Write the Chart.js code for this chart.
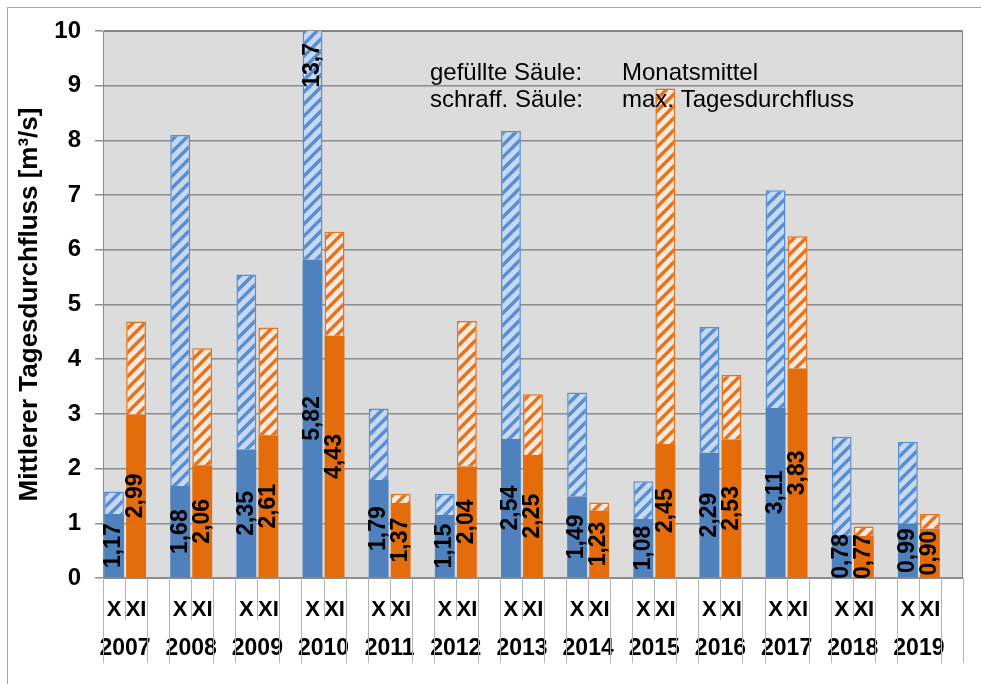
<!DOCTYPE html>
<html>
<head>
<meta charset="utf-8">
<script src="https://cdn.jsdelivr.net/npm/chart.js@4.4.1/dist/chart.umd.min.js"></script>
<style>
  html, body { margin: 0; padding: 0; background: #fff; }
  #wrap { position: relative; width: 981px; height: 684px; overflow: hidden; }
  #frame { position: absolute; left: 7px; top: 7px; width: 1000px; height: 700px;
           border-left: 1px solid #a6a6a6; border-top: 1px solid #a6a6a6; }
  canvas { position: absolute; left: 0; top: 0; }
</style>
</head>
<body>
<div id="wrap"><div id="frame"></div><canvas id="c" width="981" height="684"></canvas></div>
<script>
// Abfluss Oktober (X) und November (XI), 2007–2019
const years = ['2007', '2008', '2009', '2010', '2011', '2012', '2013',
               '2014', '2015', '2016', '2017', '2018', '2019'];
const months = ['X', 'XI'];

// Monatsmittel [m³/s]
const meanOct = [1.17, 1.68, 2.35, 5.82, 1.79, 1.15, 2.54, 1.49, 1.08, 2.29, 3.11, 0.78, 0.99];
const meanNov = [2.99, 2.06, 2.61, 4.43, 1.37, 2.04, 2.25, 1.23, 2.45, 2.53, 3.83, 0.77, 0.90];

// max. Tagesdurchfluss [m³/s]
const maxOct = [1.58, 8.10, 5.55, 13.7, 3.10, 1.54, 8.17, 3.39, 1.77, 4.59, 7.09, 2.58, 2.49];
const maxNov = [4.69, 4.20, 4.58, 6.33, 1.54, 4.70, 3.36, 1.38, 8.95, 3.71, 6.25, 0.94, 1.17];

const yTicks = [0, 1, 2, 3, 4, 5, 6, 7, 8, 9, 10];
const yTitle = 'Mittlerer Tagesdurchfluss [m³/s]';
const notes = [
  ['gefüllte Säule:', 'Monatsmittel'],
  ['schraff. Säule:', 'max. Tagesdurchfluss']
];

const FONT = '"Liberation Sans", Arial, sans-serif';
const BLUE = '#4f81bd', BLUE_LIGHT = '#c6d9f1', BLUE_LINE = '#558ed5';
const ORANGE = '#e46c0a', ORANGE_LIGHT = '#fde9d9', ORANGE_LINE = '#e8721a';

// each year has three slots: X, XI and an empty spacer
const slotsPerYear = months.length + 1;
const slotLabels = years.flatMap(() => [...months, '']);

function inSlot(pos, fn) {
  return years.flatMap((_, i) => {
    const row = new Array(slotsPerYear).fill(null);
    row[pos] = fn(i);
    return row;
  });
}

function hatch(bg, fg) {
  const s = 12;
  const c = document.createElement('canvas');
  c.width = s; c.height = s;
  const g = c.getContext('2d');
  g.fillStyle = bg;
  g.fillRect(0, 0, s, s);
  g.strokeStyle = fg;
  g.lineWidth = 3.4;
  g.beginPath();
  g.moveTo(-2, s + 2); g.lineTo(s + 2, -2);
  g.moveTo(-s / 2 - 2, s / 2 + 2); g.lineTo(s / 2 + 2, -s / 2 - 2);
  g.moveTo(s / 2 - 2, s * 1.5 + 2); g.lineTo(s * 1.5 + 2, s / 2 - 2);
  g.stroke();
  return g.createPattern(c, 'repeat');
}

const fmtMean = v => v.toFixed(2).replace('.', ',');
const fmtMax = v => v.toFixed(1).replace('.', ',');

const barCommon = {
  grouped: false,
  barPercentage: 0.9,
  categoryPercentage: 1.0
};

const datasets = [
  Object.assign({
    label: 'X Monatsmittel', kind: 'mean',
    data: inSlot(0, i => meanOct[i]),
    backgroundColor: BLUE, borderWidth: 0
  }, barCommon),
  Object.assign({
    label: 'X max. Tagesdurchfluss', kind: 'max',
    data: inSlot(0, i => [meanOct[i], maxOct[i]]),
    backgroundColor: hatch(BLUE_LIGHT, BLUE_LINE),
    borderColor: BLUE_LINE, borderWidth: 1.5, borderSkipped: 'start'
  }, barCommon),
  Object.assign({
    label: 'XI Monatsmittel', kind: 'mean',
    data: inSlot(1, i => meanNov[i]),
    backgroundColor: ORANGE, borderWidth: 0
  }, barCommon),
  Object.assign({
    label: 'XI max. Tagesdurchfluss', kind: 'max',
    data: inSlot(1, i => [meanNov[i], maxNov[i]]),
    backgroundColor: hatch(ORANGE_LIGHT, ORANGE_LINE),
    borderColor: ORANGE_LINE, borderWidth: 1.5, borderSkipped: 'start'
  }, barCommon)
];

// grey plot area with a thin frame
const plotArea = {
  id: 'plotArea',
  beforeDraw(chart) {
    const { ctx, chartArea: a } = chart;
    ctx.save();
    ctx.fillStyle = '#dcdcdc';
    ctx.fillRect(a.left, a.top, a.right - a.left, a.bottom - a.top);
    ctx.restore();
  },
  beforeDatasetsDraw(chart) {
    const { ctx, chartArea: a } = chart;
    ctx.save();
    ctx.strokeStyle = '#7f7f7f';
    ctx.lineWidth = 1;
    ctx.beginPath();
    ctx.moveTo(a.left, a.top + 0.5); ctx.lineTo(a.right - 0.5, a.top + 0.5);
    ctx.lineTo(a.right - 0.5, a.bottom);
    ctx.stroke();
    ctx.restore();
  }
};

// separators of the two-level category axis
const axisDividers = {
  id: 'axisDividers',
  afterDraw(chart) {
    const { ctx } = chart;
    const xs = chart.scales.x, x2 = chart.scales.x2;
    const w = xs.getPixelForValue(1) - xs.getPixelForValue(0);
    const left = xs.getPixelForValue(0) - w / 2;
    ctx.save();
    ctx.strokeStyle = '#b4b4b4';
    ctx.lineWidth = 1;
    for (let k = 0; k <= slotLabels.length; k++) {
      const x = Math.round(left + k * w) + 0.5;
      const bottom = (k % slotsPerYear === 1) ? xs.bottom : x2.bottom;
      ctx.beginPath();
      ctx.moveTo(x, xs.top);
      ctx.lineTo(x, bottom);
      ctx.stroke();
    }
    ctx.restore();
  }
};

// rotated value labels and the explanation text
const valueLabels = {
  id: 'valueLabels',
  afterDatasetsDraw(chart) {
    const { ctx, chartArea: a } = chart;
    const ymax = chart.scales.y.max;
    ctx.save();
    ctx.fillStyle = '#000';
    ctx.font = 'bold 23px ' + FONT;
    chart.data.datasets.forEach((ds, di) => {
      const meta = chart.getDatasetMeta(di);
      meta.data.forEach((el, i) => {
        const v = ds.data[i];
        if (v === null || v === undefined) return;
        if (ds.kind === 'mean') {
          const cy = (el.y + el.base) / 2;
          ctx.save();
          ctx.translate(el.x, cy);
          ctx.rotate(-Math.PI / 2);
          ctx.textAlign = 'center';
          ctx.textBaseline = 'middle';
          ctx.fillText(fmtMean(v), 0, 0);
          ctx.restore();
        } else if (v[1] > ymax) {
          ctx.save();
          ctx.translate(el.x, a.top + 12);
          ctx.rotate(-Math.PI / 2);
          ctx.textAlign = 'right';
          ctx.textBaseline = 'middle';
          ctx.fillText(fmtMax(v[1]), 0, 0);
          ctx.restore();
        }
      });
    });
    ctx.font = '24px ' + FONT;
    ctx.textAlign = 'left';
    ctx.textBaseline = 'alphabetic';
    notes.forEach((row, r) => {
      const y = a.top + 49 + r * 27;
      ctx.fillText(row[0], a.left + 327, y);
      ctx.fillText(row[1], a.left + 519, y);
    });
    ctx.restore();
  }
};

new Chart(document.getElementById('c'), {
  type: 'bar',
  data: { labels: slotLabels, datasets },
  plugins: [plotArea, axisDividers, valueLabels],
  options: {
    responsive: false,
    animation: false,
    devicePixelRatio: 1,
    layout: { padding: { left: 8, top: 31, right: 18, bottom: 21 } },
    plugins: { legend: { display: false }, tooltip: { enabled: false } },
    scales: {
      x: {
        type: 'category',
        offset: true,
        grid: { display: false },
        border: { display: true, color: '#8c8c8c', width: 1 },
        ticks: {
          autoSkip: false, maxRotation: 0, minRotation: 0,
          padding: 11, color: '#000',
          font: { family: FONT, size: 22, weight: 'bold' }
        },
        afterFit(s) { s.height = 42; }
      },
      x2: {
        type: 'linear',
        position: 'bottom',
        weight: 1,
        offset: false,
        min: -0.5,
        max: slotLabels.length - 0.5,
        grid: { display: false },
        border: { display: false },
        afterBuildTicks(s) {
          s.ticks = years.map((_, i) => ({ value: i * slotsPerYear + 0.5 }));
        },
        ticks: {
          autoSkip: false, maxRotation: 0, minRotation: 0,
          padding: 7, color: '#000',
          font: { family: FONT, size: 23, weight: 'bold' },
          callback: (v, i) => years[i]
        },
        afterFit(s) { s.height = 43; }
      },
      y: {
        min: yTicks[0],
        max: yTicks[yTicks.length - 1],
        afterBuildTicks(s) { s.ticks = yTicks.map(v => ({ value: v })); },
        grid: { color: '#8c8c8c', lineWidth: 1.5, tickLength: 8, tickColor: '#8c8c8c' },
        border: { display: true, color: '#8c8c8c', width: 1 },
        ticks: {
          padding: 14, color: '#000',
          font: { family: FONT, size: 24, weight: 'bold' }
        },
        title: {
          display: true, text: yTitle, color: '#000',
          font: { family: FONT, size: 26, weight: 'bold' },
          padding: { top: 6, bottom: 0 }
        },
        afterFit(s) { s.width = 95; }
      }
    }
  }
});
</script>
</body>
</html>
